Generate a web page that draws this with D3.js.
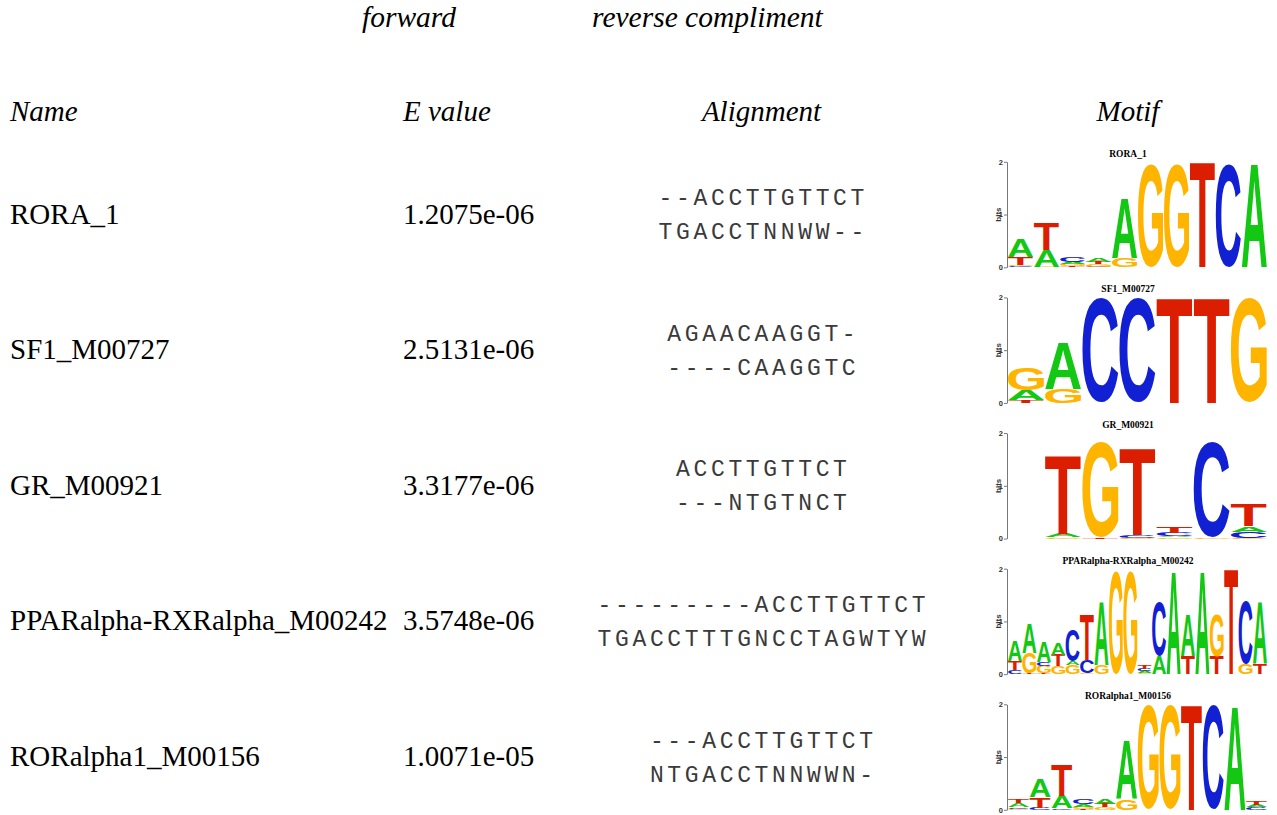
<!DOCTYPE html>
<html><head><meta charset="utf-8">
<script src="https://cdn.jsdelivr.net/npm/d3@7"></script>
<style>body{margin:0;background:#fff}</style>
</head><body>
<svg id="chart" width="1277" height="815"></svg>
<script>
// ---------- data ----------
const topLabels = ["forward", "reverse compliment"];
const headers = ["Name", "E value", "Alignment", "Motif"];
const names = ["RORA_1", "SF1_M00727", "GR_M00921", "PPARalpha-RXRalpha_M00242", "RORalpha1_M00156"];
const evalues = ["1.2075e-06", "2.5131e-06", "3.3177e-06", "3.5748e-06", "1.0071e-05"];
const alignForward = ["--ACCTTGTTCT", "AGAACAAGGT-", "ACCTTGTTCT", "---------ACCTTGTTCT", "---ACCTTGTTCT"];
const alignMotif = ["TGACCTNNWW--", "----CAAGGTC", "---NTGTNCT", "TGACCTTTGNCCTAGWTYW", "NTGACCTNNWWN-"];
const bitTicks = [0, 1, 2];

// logo columns: letters listed bottom -> top, heights in bits
const logoRORA_1 = [
  [["C",0.02],["G",0.03],["T",0.15],["A",0.34]],
  [["G",0.01],["A",0.31],["T",0.52]],
  [["T",0.02],["G",0.04],["A",0.04],["C",0.09]],
  [["C",0.01],["G",0.05],["T",0.04],["A",0.08]],
  [["G",0.18],["A",1.12]],
  [["G",1.96]],
  [["G",1.96]],
  [["T",2.0]],
  [["C",1.96]],
  [["A",1.96]]
];
const logoSF1_M00727 = [
  [["T",0.05],["A",0.19],["G",0.42]],
  [["G",0.26],["A",0.88]],
  [["C",1.97]],
  [["C",1.97]],
  [["T",2.0]],
  [["T",2.0]],
  [["G",1.97]]
];
const logoGR_M00921 = [
  [],
  [["G",0.03],["A",0.06],["T",1.49]],
  [["T",0.02],["G",1.79]],
  [["G",0.01],["C",0.05],["T",1.66]],
  [["G",0.02],["A",0.02],["C",0.07],["T",0.13]],
  [["G",0.02],["C",1.8]],
  [["G",0.01],["C",0.12],["A",0.1],["T",0.42]]
];
const logoPPAR_RXR_M00242 = [
  [["C",0.08],["T",0.17],["A",0.4]],
  [["T",0.01],["G",0.39],["A",0.57]],
  [["T",0.02],["G",0.14],["C",0.08],["A",0.38]],
  [["G",0.15],["T",0.22],["A",0.22]],
  [["G",0.17],["A",0.08],["C",0.6]],
  [["G",0.02],["C",0.25],["T",0.85]],
  [["G",0.17],["A",1.21]],
  [["G",1.95]],
  [["G",1.95]],
  [["G",0.02],["A",0.04],["C",0.04],["T",0.06]],
  [["A",0.35],["C",1.03]],
  [["A",1.95]],
  [["T",0.35],["A",0.79]],
  [["A",1.95]],
  [["T",0.33],["G",0.8]],
  [["T",2.0]],
  [["G",0.19],["C",1.19]],
  [["T",0.19],["A",1.19]]
];
const logoRORalpha1_M00156 = [
  [["G",0.02],["C",0.03],["A",0.07],["T",0.08]],
  [["C",0.04],["T",0.2],["A",0.35]],
  [["C",0.03],["A",0.24],["T",0.58]],
  [["T",0.01],["G",0.05],["A",0.05],["C",0.1]],
  [["G",0.05],["T",0.06],["A",0.1]],
  [["G",0.2],["A",1.1]],
  [["G",1.97]],
  [["G",1.97]],
  [["T",2.0]],
  [["C",1.97]],
  [["A",1.97]],
  [["C",0.05],["A",0.05],["T",0.08]]
];
const logos = [logoRORA_1, logoSF1_M00727, logoGR_M00921, logoPPAR_RXR_M00242, logoRORalpha1_M00156];
const letterColors = {A:"#12c812", C:"#1020d2", G:"#ffb400", T:"#dc1e00"};

// ---------- layout ----------
const svg = d3.select("#chart");
const serif = '"Liberation Serif", "Times New Roman", serif';
const mono = '"Liberation Mono", "Courier New", monospace';
const sans = '"Liberation Sans", Arial, sans-serif';

const rowScale = d3.scaleLinear().domain([0, names.length - 1]).range([223.5, 766]);
const colX = {name: 10, evalue: 403, align: 761.5, motif: 1128};
const charStep = 17.45;

// top labels
svg.selectAll("text.top").data(topLabels).join("text")
  .attr("class", "top")
  .attr("x", (d, i) => [362, 592][i]).attr("y", 27)
  .attr("font-family", serif).attr("font-style", "italic").attr("font-size", 29.5)
  .text(d => d);

// headers
svg.selectAll("text.hdr").data(headers).join("text")
  .attr("class", "hdr")
  .attr("x", (d, i) => [colX.name, colX.evalue, colX.align, colX.motif][i])
  .attr("y", 121)
  .attr("text-anchor", (d, i) => i >= 2 ? "middle" : "start")
  .attr("font-family", serif).attr("font-style", "italic").attr("font-size", 29)
  .text(d => d);

// names & e-values
svg.selectAll("text.name").data(names).join("text")
  .attr("class", "name").attr("x", colX.name).attr("y", (d, i) => rowScale(i))
  .attr("font-family", serif).attr("font-size", 29).text(d => d);
svg.selectAll("text.ev").data(evalues).join("text")
  .attr("class", "ev").attr("x", colX.evalue).attr("y", (d, i) => rowScale(i))
  .attr("font-family", serif).attr("font-size", 29).text(d => d);

// alignments (monospaced, per-character placement)
function drawAlign(str, baseline) {
  const n = str.length;
  const g = svg.append("g");
  g.selectAll("text").data(str.split("")).join("text")
    .attr("x", (c, i) => colX.align + (i - (n - 1) / 2) * charStep)
    .attr("y", baseline)
    .attr("text-anchor", "middle")
    .attr("font-family", mono).attr("font-size", 23).attr("fill", "#3a3a3a")
    .text(c => c);
}
names.forEach((nm, i) => {
  drawAlign(alignForward[i], rowScale(i) - 18.5);
  drawAlign(alignMotif[i], rowScale(i) + 15.5);
});

// ---------- sequence logos ----------
const ctx = document.createElement("canvas").getContext("2d");
ctx.font = 'bold 100px "Liberation Sans"';
const ink = {};
["A","C","G","T"].forEach(ch => {
  const m = ctx.measureText(ch);
  ink[ch] = {l: m.actualBoundingBoxLeft, r: m.actualBoundingBoxRight,
             a: m.actualBoundingBoxAscent, d: m.actualBoundingBoxDescent};
});

const logoLeft = 1008, logoRight = 1267, axisX = 1007;
logos.forEach((cols, i) => {
  const zero = rowScale(i) + 43.8;
  const y = d3.scaleLinear().domain([0, 2]).range([zero, zero - 105.5]);
  const x = d3.scaleBand().domain(d3.range(cols.length)).range([logoLeft, logoRight]).paddingInner(0.03);
  const g = svg.append("g");

  // title
  g.append("text").attr("x", colX.motif).attr("y", zero - 110.5)
    .attr("text-anchor", "middle").attr("font-family", serif)
    .attr("font-size", 9.5).attr("font-weight", "bold").text(names[i]);

  // axis
  const ax = g.append("g").attr("transform", `translate(${axisX},0)`)
    .call(d3.axisLeft(y).tickValues(bitTicks).tickSize(3).tickSizeOuter(0).tickFormat(d3.format("d")));
  ax.select(".domain").attr("stroke", "#555").attr("stroke-width", 0.8);
  ax.selectAll(".tick line").attr("stroke", "#555").attr("stroke-width", 0.8);
  ax.selectAll(".tick text").attr("font-family", sans).attr("font-weight", "bold")
    .attr("font-size", 7.5).attr("x", -4).attr("fill", "#333");
  g.append("text").attr("transform", `translate(${axisX - 6.5},${y(1)}) rotate(-90)`)
    .attr("text-anchor", "middle").attr("font-family", sans).attr("font-weight", "bold")
    .attr("font-size", 8).attr("fill", "#333").text("bits");

  // letters
  cols.forEach((stack, ci) => {
    let cum = 0;
    stack.forEach(([ch, h]) => {
      const yb = y(cum), yt = y(cum + h);
      cum += h;
      const hpx = yb - yt;
      if (hpx <= 0.05) return;
      const b = ink[ch];
      const w = x.bandwidth();
      const sx = w / (b.l + b.r), sy = hpx / (b.a + b.d);
      g.append("text")
        .attr("transform", `translate(${x(ci) + b.l * sx},${yt + b.a * sy}) scale(${sx},${sy})`)
        .attr("font-family", sans).attr("font-weight", "bold").attr("font-size", 100)
        .attr("fill", letterColors[ch]).text(ch);
    });
  });
});
</script>
</body></html>
